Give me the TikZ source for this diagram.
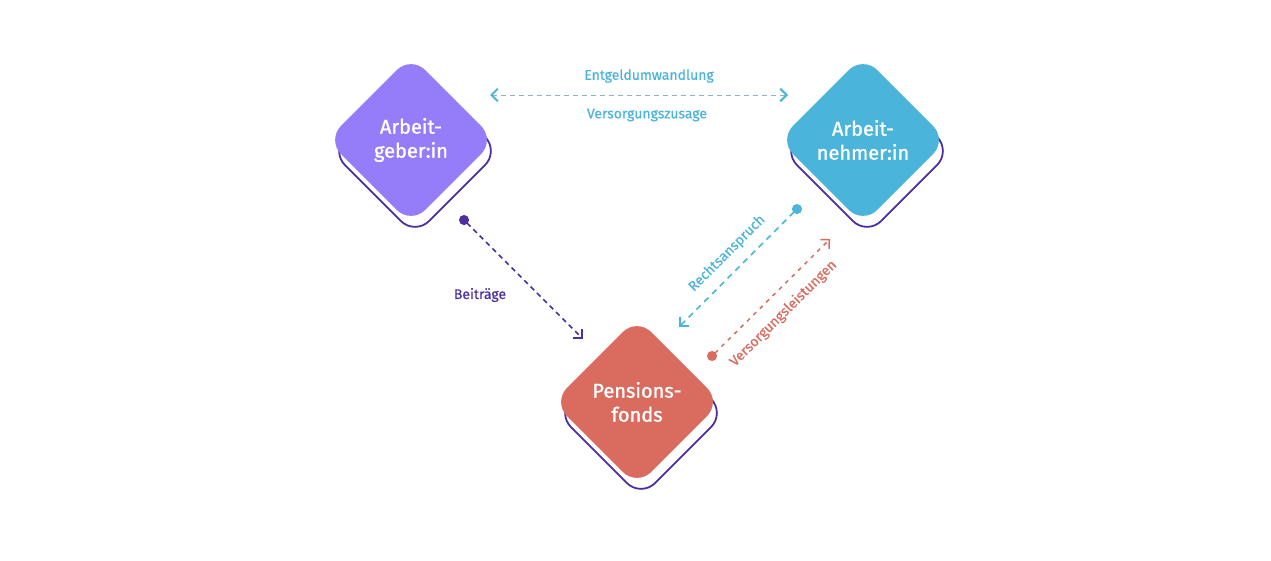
\documentclass[tikz,border=0pt]{standalone}
\usepackage{fontspec}
\setmainfont{Fira Sans}
\newfontfamily\tilefont{Fira Sans}[FakeBold=1.2]
\newfontfamily\labelfont{Fira Sans}[FakeBold=0.6]
\usetikzlibrary{arrows.meta}
\definecolor{lilac}{HTML}{957DF9}
\definecolor{sky}{HTML}{4AB4DA}
\definecolor{coral}{HTML}{D96C5E}
\definecolor{ink}{HTML}{4B2FA0}
\definecolor{mist}{HTML}{8DB3CC}
\tikzset{
  tile/.style={rectangle, rounded corners=20pt, minimum size=119pt, rotate=45, inner sep=0pt},
  tilebg/.style={tile, draw=ink, line width=1.8pt, fill=white},
  tiletext/.style={text=white, align=center, font=\tilefont\fontsize{20}{24}\selectfont},
  flowlabel/.style={font=\labelfont\fontsize{14}{16}\selectfont},
  flow/.style={line width=1.7pt, {Circle[length=10pt]}-{Straight Barb[angle=90:9pt]}},
}
\begin{document}
\begin{tikzpicture}[x=1pt,y=-1pt]
\useasboundingbox (0,0) rectangle (1271,560);
% shadows
\node[tilebg] (agshadow) at (415,151) {};
\node[tilebg] (anshadow) at (867,151) {};
\node[tilebg] (pfshadow) at (641,413) {};
% tiles
\node[tile, fill=lilac] (agbox) at (411,140) {};
\node[tile, fill=sky] (anbox) at (863,140) {};
\node[tile, fill=coral] (pfbox) at (637,402) {};
\node[tiletext] (ag) at (agbox.center) {Arbeit-\\geber:in};
\node[tiletext] (an) at (anbox.center) {Arbeit-\\nehmer:in};
\node[tiletext] (pf) at (pfbox.center) {Pensions-\\fonds};
% connectors
\coordinate (ev1) at (490,95);
\coordinate (ev2) at (788,95);
\coordinate (bt1) at (460.5,216.5);
\coordinate (bt2) at (583,339);
\coordinate (ra1) at (800.5,205.5);
\coordinate (ra2) at (679,327);
\coordinate (vl1) at (708.5,359.5);
\coordinate (vl2) at (830,239);
\draw[mist, line width=1pt, dash pattern=on 5pt off 4pt,
      {Straight Barb[angle=90:9pt, sky, line width=2pt]}-{Straight Barb[angle=90:9pt, sky, line width=2pt]}]
  (ev1) -- (ev2);
\node[flowlabel, text=sky] (eu) at (649,76) {Entgeldumwandlung};
\node[flowlabel, text=sky] (vz) at (647,115) {Versorgungszusage};
\draw[flow, ink, dash pattern=on 5pt off 4pt] (bt1) -- (bt2);
\node[flowlabel, text=ink] (bt) at (480,295) {Beiträge};
\draw[flow, sky, dash pattern=on 6pt off 5pt] (ra1) -- node[flowlabel, sloped, above=7pt] (ra) {Rechtsanspruch} (ra2);
\draw[flow, coral, line width=1.5pt, dash pattern=on 4pt off 5pt] (vl1) -- node[flowlabel, sloped, below=9pt] (vl) {Versorgungsleistungen} (vl2);
\end{tikzpicture}
\end{document}
